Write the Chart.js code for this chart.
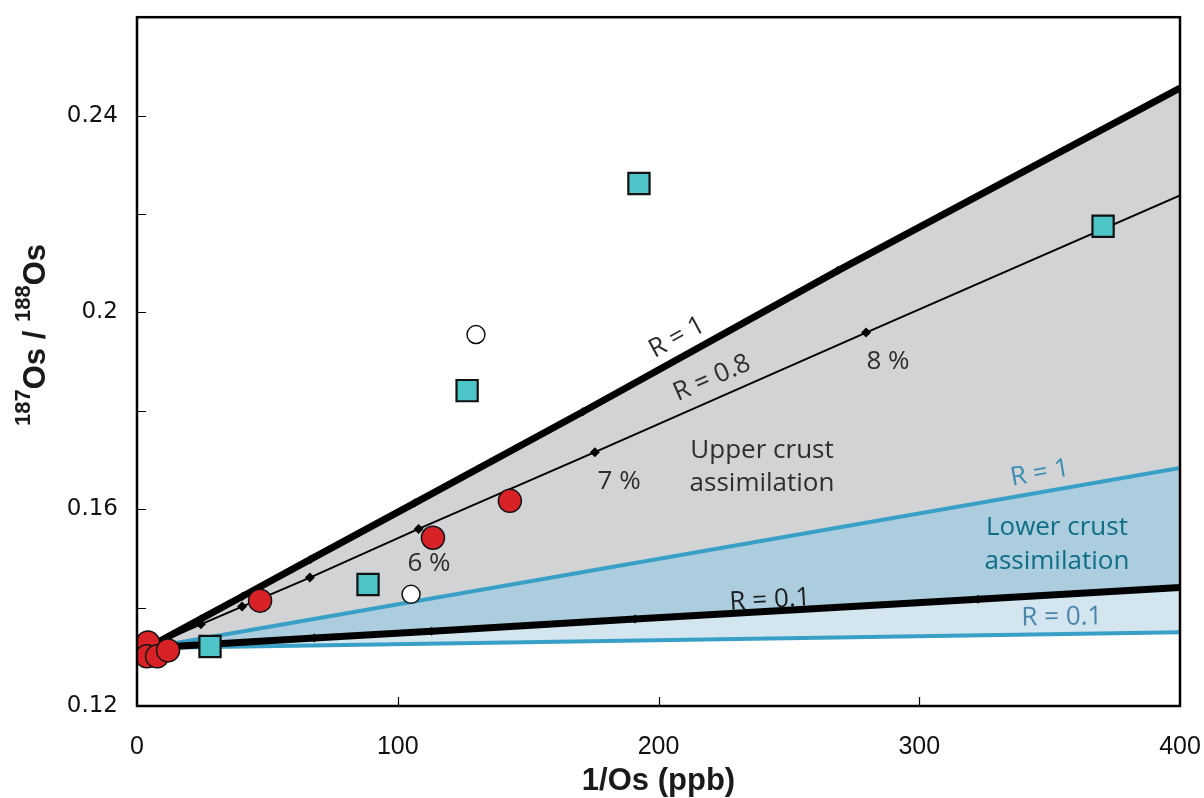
<!DOCTYPE html>
<html>
<head>
<meta charset="utf-8">
<title>187Os/188Os vs 1/Os</title>
<script src="https://cdn.jsdelivr.net/npm/chart.js@4.4.1/dist/chart.umd.min.js"></script>
<style>
  body { margin: 0; background: #fff; }
</style>
</head>
<body>
<canvas id="osChart" width="1204" height="798"></canvas>
<script>
// measured samples
const redX = [4.2, 3.8, 7.7, 11.9, 47.2, 113.5, 143];
const redY = [0.1329, 0.1301, 0.1301, 0.1313, 0.1414, 0.1542, 0.1617];
const squareX = [192.5, 370.5, 126.6, 88.6, 28];
const squareY = [0.2262, 0.2175, 0.1841, 0.1447, 0.1321];
const openX = [130, 105.1];
const openY = [0.1955, 0.1427];

// assimilation curves (upper crust R = 1, 0.8, 0.1; lower crust R = 1, 0.1)
const upperR1X = [4, 24.5, 40.5, 66.5, 106.6, 171, 268.8, 400];
const upperR1Y = [0.1318, 0.1377, 0.1423, 0.1498, 0.1613, 0.1798, 0.2085, 0.2456];
const upperR08X = [4, 24.5, 40.3, 66.3, 108, 175.6, 279.6, 400];
const upperR08Y = [0.1318, 0.1366, 0.1402, 0.1461, 0.1560, 0.1716, 0.1959, 0.2238];
const upperR01X = [4, 68, 113, 191, 322.5, 400];
const upperR01Y = [0.1318, 0.1338, 0.1352, 0.1377, 0.1417, 0.1441];
const lowerR1X = [4, 400];
const lowerR1Y = [0.1318, 0.1684];
const lowerR01X = [4, 400];
const lowerR01Y = [0.1318, 0.1350];

const xTicks = [0, 100, 200, 300, 400];
const yTickLabels = [0.12, 0.16, 0.2, 0.24];

function pts(xs, ys) {
  return xs.map((x, i) => ({ x: x, y: ys[i] }));
}
// markers on every point except the end of the line
function markers(xs, r) {
  return xs.map((x, i) => (i === xs.length - 1 ? 0 : r));
}

// text placed in data units; "along" = dataset whose slope sets the rotation
const notes = [
  { text: "R = 1", x: 207.1, y: 0.1949, along: 4, color: "#2e2e2e" },
  { text: "R = 0.8", x: 220.5, y: 0.1866, along: 3, color: "#2e2e2e" },
  { text: "8 %", x: 288.0, y: 0.19, color: "#2e2e2e" },
  { text: "7 %", x: 184.9, y: 0.1657, color: "#2e2e2e" },
  { text: "6 %", x: 112.0, y: 0.1489, color: "#2e2e2e" },
  { text: "Upper crust", x: 239.7, y: 0.172, color: "#2e2e2e" },
  { text: "assimilation", x: 239.7, y: 0.1653, color: "#2e2e2e" },
  { text: "R = 1", x: 346.3, y: 0.1673, along: 6, color: "#3b8db5" },
  { text: "Lower crust", x: 352.8, y: 0.1562, color: "#0f6d88" },
  { text: "assimilation", x: 352.8, y: 0.1493, color: "#0f6d88" },
  { text: "R = 0.1", x: 242.8, y: 0.1415, along: 5, color: "#1e1e1e" },
  { text: "R = 0.1", x: 354.7, y: 0.138, along: 7, color: "#4a86aa" },
];

const decorations = {
  id: "decorations",
  afterDatasetsDraw(chart) {
    const ctx = chart.ctx;
    const xs = chart.scales.x;
    const ys = chart.scales.y;

    // curve labels
    ctx.save();
    ctx.font = "26px 'Open Sans'";
    ctx.textAlign = "center";
    ctx.textBaseline = "middle";
    notes.forEach((n) => {
      let angle = 0;
      if (n.along !== undefined) {
        const d = chart.data.datasets[n.along].data;
        const a = d[0], b = d[d.length - 1];
        angle = Math.atan2(
          ys.getPixelForValue(b.y) - ys.getPixelForValue(a.y),
          xs.getPixelForValue(b.x) - xs.getPixelForValue(a.x)
        );
      }
      ctx.save();
      ctx.translate(xs.getPixelForValue(n.x), ys.getPixelForValue(n.y));
      ctx.rotate(angle);
      ctx.fillStyle = n.color;
      ctx.fillText(n.text, 0, 0);
      ctx.restore();
    });
    ctx.restore();
  },
  afterDraw(chart) {
    const ctx = chart.ctx;
    const xs = chart.scales.x;
    const ys = chart.scales.y;
    const area = chart.chartArea;

    ctx.save();
    ctx.strokeStyle = "#000";
    // inward tick marks
    ctx.lineWidth = 1.2;
    ctx.beginPath();
    [100, 200, 300].forEach((v) => {
      const px = Math.round(xs.getPixelForValue(v)) + 0.5;
      ctx.moveTo(px, area.bottom);
      ctx.lineTo(px, area.bottom - 9);
    });
    [0.14, 0.16, 0.18, 0.2, 0.22, 0.24].forEach((v) => {
      const py = Math.round(ys.getPixelForValue(v)) + 0.5;
      ctx.moveTo(area.left, py);
      ctx.lineTo(area.left + 9, py);
    });
    ctx.stroke();

    // plot frame
    ctx.lineWidth = 2.5;
    ctx.strokeRect(area.left, area.top, area.right - area.left, area.bottom - area.top);

    // axis titles
    ctx.fillStyle = "#1a1a1a";
    ctx.font = "bold 31px 'Liberation Sans'";
    ctx.textAlign = "center";
    ctx.textBaseline = "alphabetic";
    ctx.fillText("1/Os (ppb)", (area.left + area.right) / 2, 790);

    const parts = [
      ["187", true], ["Os / ", false], ["188", true], ["Os", false],
    ];
    const mainFont = "bold 31px 'Liberation Sans'";
    const supFont = "bold 22px 'Liberation Sans'";
    let total = 0;
    parts.forEach((p) => {
      ctx.font = p[1] ? supFont : mainFont;
      total += ctx.measureText(p[0]).width;
    });
    ctx.translate(45, 335);
    ctx.rotate(-Math.PI / 2);
    ctx.textAlign = "left";
    let cx = -total / 2;
    parts.forEach((p) => {
      ctx.font = p[1] ? supFont : mainFont;
      ctx.fillText(p[0], cx, p[1] ? -15 : 0);
      cx += ctx.measureText(p[0]).width;
    });
    ctx.restore();
  },
};

const lineBase = {
  showLine: true,
  pointStyle: "rectRot",
  pointBackgroundColor: "#000",
  pointBorderColor: "#000",
  pointBorderWidth: 0,
};

new Chart(document.getElementById("osChart"), {
  type: "scatter",
  data: {
    datasets: [
      {
        label: "red",
        data: pts(redX, redY),
        pointStyle: "circle",
        pointRadius: 11.5,
        pointBackgroundColor: "#d92128",
        pointBorderColor: "#111",
        pointBorderWidth: 1.5,
      },
      {
        label: "square",
        data: pts(squareX, squareY),
        pointStyle: "rect",
        pointRadius: 15,
        pointBackgroundColor: "#4cc4c8",
        pointBorderColor: "#111",
        pointBorderWidth: 2.2,
      },
      {
        label: "open",
        data: pts(openX, openY),
        pointStyle: "circle",
        pointRadius: 9,
        pointBackgroundColor: "#fff",
        pointBorderColor: "#111",
        pointBorderWidth: 1.5,
      },
      {
        ...lineBase,
        label: "upper R=0.8",
        data: pts(upperR08X, upperR08Y),
        borderColor: "#000",
        borderWidth: 2,
        pointRadius: markers(upperR08X, 5),
        fill: false,
      },
      {
        ...lineBase,
        label: "upper R=1",
        data: pts(upperR1X, upperR1Y),
        borderColor: "#000",
        borderWidth: 7,
        pointRadius: markers(upperR1X, 4.5),
        backgroundColor: "#d1d3d4",
        fill: { target: 6 },
      },
      {
        ...lineBase,
        label: "upper R=0.1",
        data: pts(upperR01X, upperR01Y),
        borderColor: "#000",
        borderWidth: 7,
        pointRadius: markers(upperR01X, 4.5),
        backgroundColor: "#d3e5ee",
        fill: { target: 7 },
      },
      {
        ...lineBase,
        label: "lower R=1",
        data: pts(lowerR1X, lowerR1Y),
        borderColor: "#38a0c6",
        borderWidth: 4,
        pointRadius: 0,
        backgroundColor: "#abcddd",
        fill: { target: 5 },
      },
      {
        ...lineBase,
        label: "lower R=0.1",
        data: pts(lowerR01X, lowerR01Y),
        borderColor: "#38a0c6",
        borderWidth: 4,
        pointRadius: 0,
        fill: false,
      },
    ],
  },
  options: {
    responsive: false,
    animation: false,
    devicePixelRatio: 1,
    layout: { padding: { top: 14, right: 24, left: 0, bottom: 0 } },
    scales: {
      x: {
        type: "linear",
        min: 0,
        max: 400,
        afterBuildTicks: (s) => { s.ticks = xTicks.map((v) => ({ value: v })); },
        afterFit: (s) => {
          s.height = 92;
          s.paddingLeft = 0;
          s.paddingRight = 0;
        },
        grid: { display: false },
        border: { display: false },
        ticks: {
          padding: 18,
          color: "#111",
          font: { family: "'Liberation Sans'", size: 25 },
        },
      },
      y: {
        type: "linear",
        min: 0.12,
        max: 0.26,
        afterBuildTicks: (s) => { s.ticks = yTickLabels.map((v) => ({ value: v })); },
        afterFit: (s) => {
          s.width = 137;
          s.paddingTop = 0;
          s.paddingBottom = 0;
        },
        grid: { display: false },
        border: { display: false },
        ticks: {
          padding: 11,
          color: "#111",
          font: { family: "'DejaVu Sans'", size: 23 },
          callback: (v) => String(+v.toFixed(2)),
        },
      },
    },
    plugins: {
      legend: { display: false },
      tooltip: { enabled: false },
      filler: { drawTime: "beforeDatasetsDraw" },
    },
  },
  plugins: [decorations],
});
</script>
</body>
</html>
